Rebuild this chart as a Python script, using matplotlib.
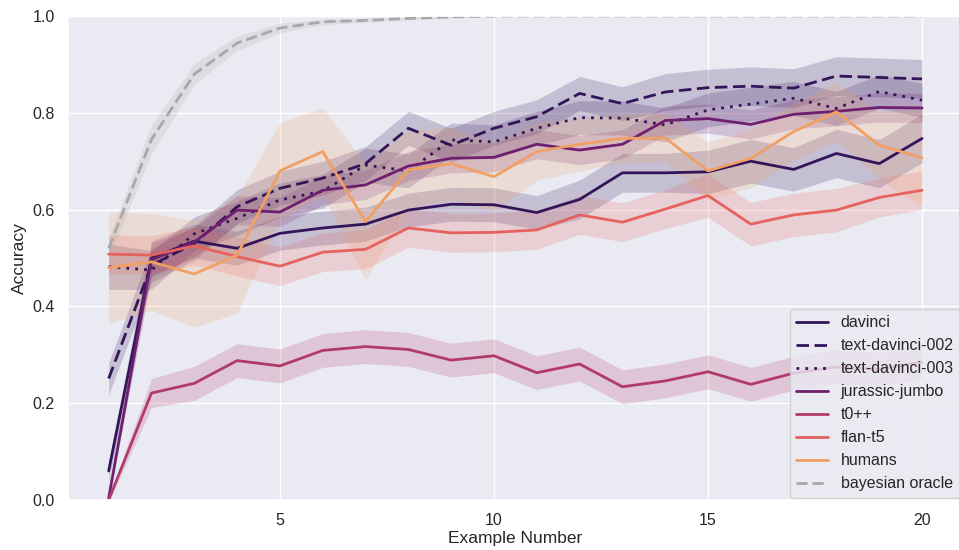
#!/usr/bin/env python3

import matplotlib.pyplot as plt
import numpy as np
import seaborn as sns

sns.set_theme(style="darkgrid")
plt.rcParams['font.family'] = ['Liberation Sans', 'DejaVu Sans']

example_number = list(range(1, 21))

models = ["davinci", "text-davinci-002", "text-davinci-003", "jurassic-jumbo",
          "t0++", "flan-t5", "humans", "bayesian oracle"]

davinci = [0.06, 0.50, 0.535, 0.52, 0.551, 0.562, 0.570, 0.599, 0.611, 0.610,
           0.594, 0.621, 0.676, 0.676, 0.678, 0.700, 0.683, 0.716, 0.695, 0.747]
text_davinci_002 = [0.251, 0.485, 0.53, 0.606, 0.644, 0.665, 0.695, 0.768, 0.733, 0.768,
                    0.792, 0.840, 0.819, 0.843, 0.852, 0.855, 0.851, 0.876, 0.873, 0.870]
text_davinci_003 = [0.482, 0.475, 0.55, 0.582, 0.62, 0.638, 0.692, 0.68, 0.744, 0.740,
                    0.768, 0.790, 0.789, 0.775, 0.806, 0.818, 0.830, 0.809, 0.844, 0.826]
jurassic_jumbo = [0.004, 0.496, 0.533, 0.599, 0.595, 0.64, 0.651, 0.69, 0.706, 0.708,
                  0.735, 0.723, 0.735, 0.784, 0.788, 0.776, 0.797, 0.803, 0.811, 0.810]
t0pp = [0.0, 0.221, 0.241, 0.288, 0.277, 0.309, 0.317, 0.311, 0.289, 0.298,
        0.263, 0.281, 0.234, 0.246, 0.265, 0.239, 0.262, 0.275, 0.27, 0.285]
flan_t5 = [0.508, 0.506, 0.525, 0.503, 0.483, 0.512, 0.518, 0.562, 0.552, 0.553,
           0.558, 0.589, 0.574, 0.601, 0.629, 0.570, 0.589, 0.599, 0.625, 0.640]
humans = [0.48, 0.492, 0.467, 0.506, 0.68, 0.72, 0.575, 0.682, 0.695, 0.668,
          0.72, 0.735, 0.747, 0.748, 0.680, 0.706, 0.761, 0.802, 0.733, 0.707]
bayesian_oracle = [0.52, 0.745, 0.88, 0.944, 0.975, 0.988, 0.991, 0.995, 0.998, 1.0,
                   1.0, 1.0, 1.0, 1.0, 1.0, 1.0, 1.0, 1.0, 1.0, 1.0]

# half width of the shaded confidence band
davinci_ci = [0.02, 0.035, 0.035, 0.035, 0.035, 0.035, 0.035, 0.035, 0.035, 0.035,
              0.035, 0.04, 0.04, 0.04, 0.045, 0.045, 0.045, 0.05, 0.05, 0.05]
text_davinci_002_ci = [0.033, 0.035, 0.035, 0.035, 0.035, 0.035, 0.035, 0.035, 0.035, 0.035,
                       0.035, 0.035, 0.035, 0.038, 0.038, 0.04, 0.04, 0.04, 0.04, 0.04]
text_davinci_003_ci = [0.047, 0.04, 0.035, 0.035, 0.035, 0.035, 0.035, 0.035, 0.035, 0.035,
                       0.035, 0.035, 0.035, 0.035, 0.035, 0.035, 0.035, 0.035, 0.035, 0.035]
jurassic_jumbo_ci = [0.005, 0.035, 0.03, 0.03, 0.03, 0.03, 0.03, 0.03, 0.03, 0.03,
                     0.03, 0.03, 0.03, 0.03, 0.03, 0.03, 0.03, 0.03, 0.03, 0.03]
t0pp_ci = [0.005, 0.03, 0.035, 0.035, 0.035, 0.035, 0.035, 0.035, 0.035, 0.035,
           0.035, 0.035, 0.035, 0.035, 0.035, 0.035, 0.035, 0.035, 0.035, 0.035]
flan_t5_ci = [0.04, 0.04, 0.04, 0.04, 0.04, 0.04, 0.04, 0.04, 0.04, 0.04,
              0.04, 0.04, 0.04, 0.04, 0.045, 0.045, 0.045, 0.045, 0.04, 0.04]
humans_ci = [0.115, 0.1, 0.11, 0.12, 0.1, 0.09, 0.12, 0.08, 0.075, 0.07,
             0.06, 0.055, 0.05, 0.05, 0.06, 0.06, 0.06, 0.06, 0.07, 0.1]
bayesian_oracle_ci = [0.02, 0.03, 0.022, 0.015, 0.01, 0.006, 0.004, 0.003, 0.002, 0.0,
                      0.0, 0.0, 0.0, 0.0, 0.0, 0.0, 0.0, 0.0, 0.0, 0.0]

all_values = [davinci, text_davinci_002, text_davinci_003, jurassic_jumbo,
              t0pp, flan_t5, humans, bayesian_oracle]
all_ci = [davinci_ci, text_davinci_002_ci, text_davinci_003_ci, jurassic_jumbo_ci,
          t0pp_ci, flan_t5_ci, humans_ci, bayesian_oracle_ci]

colors = ["#35155a", "#35155a", "#35155a", "#6f1f6f", "#b23a6a", "#e5625f", "#f0a064", "#a8a8a8"]
linestyles = ["solid", (0, (4.5, 2)), (0, (1, 2.2)), "solid", "solid", "solid", "solid", (0, (4, 1.8))]

fig = plt.figure(figsize=(9.59, 5.5), dpi=100)
ax = fig.add_axes([0.0709, 0.0909, 0.9330, 0.8800])

x = np.array(example_number)
for name, values, ci, color, ls in zip(models, all_values, all_ci, colors, linestyles):
	values = np.array(values)
	ci = np.array(ci)
	ax.fill_between(x, values - ci, values + ci, color=color, alpha=0.2, linewidth=0)
	ax.plot(x, values, label=name, color=color, linestyle=ls, linewidth=2.0)

ax.set_ylim(0, 1)
ax.set_xticks([5, 10, 15, 20])
ax.tick_params(labelsize=11.5)
ax.set_xlabel("Example Number", labelpad=2, fontsize=12.5)
ax.set_ylabel("Accuracy", fontsize=12.5)
ax.legend(loc="lower right", fontsize=11.5, borderaxespad=0.15)

plt.savefig("out.png", dpi=100)
